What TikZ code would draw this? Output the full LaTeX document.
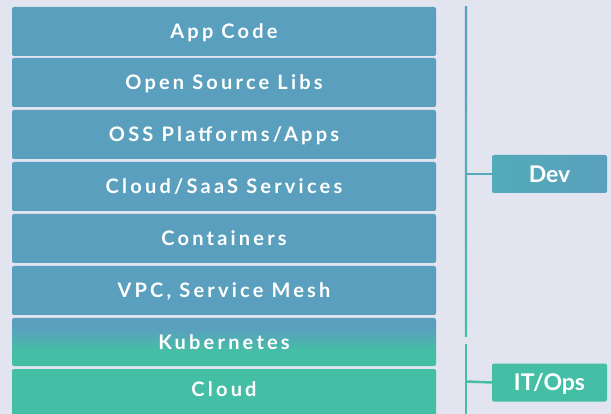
\documentclass[tikz,border=0pt]{standalone}
\usepackage{fontspec}
\setmainfont{Lato}
\newfontfamily\layerfont{Lato}[LetterSpace=16]
\definecolor{bg}{HTML}{E2E4F0}
\definecolor{devblue}{HTML}{5AA0BE}
\definecolor{opsteal}{HTML}{45BEA6}
\definecolor{devmix}{HTML}{52ABB8}
% blue on top fading into teal for the Kubernetes layer
\pgfdeclareverticalshading{kubeshade}{100bp}{color(0bp)=(opsteal); color(41bp)=(opsteal); color(64bp)=(devblue); color(100bp)=(devblue)}
\begin{document}
\begin{tikzpicture}[x=1pt,y=-1pt,
  layer/.style={rounded corners=2pt, minimum width=424pt, minimum height=49pt,
    inner sep=0pt, text=white, text height=14.3pt, text depth=0pt,
    font=\layerfont\bfseries\fontsize{20}{22}\selectfont},
  devlayer/.style={layer, fill=devblue},
  opslayer/.style={layer, fill=opsteal},
  role/.style={rounded corners=2pt, minimum width=115pt, minimum height=38pt,
    inner sep=0pt, text=white, text height=16.6pt, text depth=0pt,
    font=\bfseries\fontsize{23}{25}\selectfont},
  link/.style={line width=2.5pt}]
\useasboundingbox (0,0) rectangle (611,414);
\fill[bg] (0,0) rectangle (611,414);

% stack of layers
\node[devlayer] (app)  at (224,31.5)  {App Code};
\node[devlayer] (libs) at (224,82.5)  {Open Source Libs};
\node[devlayer] (oss)  at (224,134.5) {OSS Platforms/Apps};
\node[devlayer] (saas) at (224,186.5) {Cloud/SaaS Services};
\node[devlayer] (cont) at (224,238.5) {Containers};
\node[devlayer] (vpc)  at (224,290.5) {VPC, Service Mesh};
\node[layer, minimum height=48pt, shading=kubeshade] (kube) at (224,342) {Kubernetes};
\begin{scope}
  \clip (0,0) rectangle (611,414);
  \node[opslayer, minimum height=60pt] (cloud) at (224,399) {\raisebox{10pt}{Cloud}};
\end{scope}

% bracket lines
\shade[top color=devblue, bottom color=opsteal, middle color=devblue!60!opsteal]
  (464.8,7) rectangle (467.2,337);
\fill[opsteal] (464.8,344) rectangle (467.2,414);

% role labels
\node[role, left color=devmix, right color=devblue] (dev) at (549.5,174) {Dev};
\node[role, fill=opsteal] (ops) at (549.5,382.5) {IT/Ops};

\coordinate (devjoint) at (466,174);
\coordinate (opsjoint) at (466,381.5);
\draw[link, draw=devmix] (devjoint) -- (dev.west);
\draw[link, draw=opsteal] (opsjoint) -- (ops.west);
\end{tikzpicture}
\end{document}
